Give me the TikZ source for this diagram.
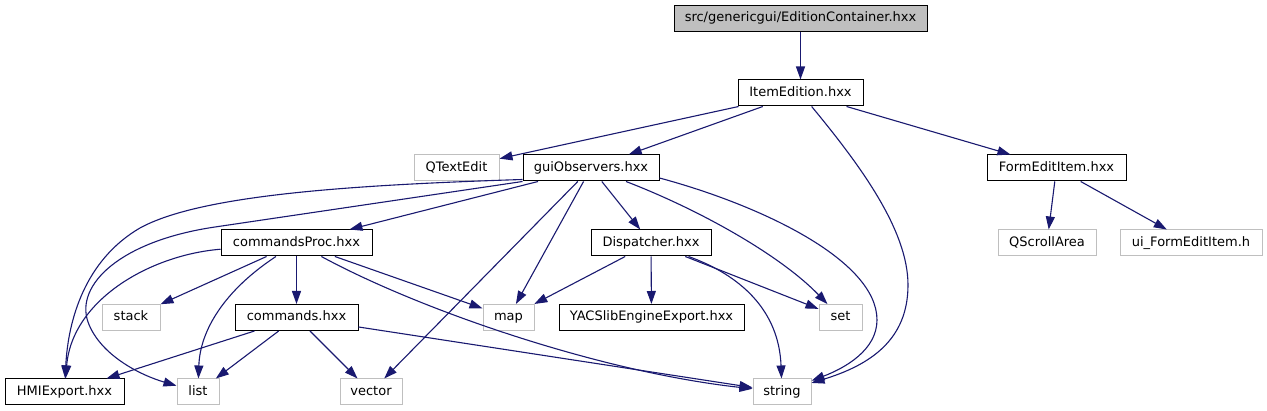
\documentclass[tikz,border=0pt]{standalone}
\usepackage{fontspec}
\setmainfont{DejaVu Sans}
\usetikzlibrary{arrows.meta}
\definecolor{edgec}{HTML}{191970}
\definecolor{greyc}{HTML}{BFBFBF}
\begin{document}
\begin{tikzpicture}[x=1pt,y=-1pt,
  box/.style={draw=black, line width=1pt, fill=white, minimum height=26pt, inner sep=0pt,
    font=\fontsize{13}{15}\selectfont, text height=9.6pt, text depth=2.6pt, anchor=center},
  ext/.style={box, draw=greyc},
  rootbox/.style={box, fill=greyc},
  dep/.style={draw=edgec, line width=1.1pt, -{Triangle[length=13pt,width=9pt]}}
]
\useasboundingbox (0,0) rectangle (1267,411);
\fill[white] (0,0) rectangle (1267,411);

\node[rootbox, minimum width=253pt] (root) at (800.5,18.5) {src/genericgui/EditionContainer.hxx};
\node[box, minimum width=125pt] (item) at (800.5,93) {ItemEdition.hxx};
\node[ext, minimum width=85pt] (qtext) at (456.5,168) {QTextEdit};
\node[box, minimum width=136pt] (gui) at (591,168) {guiObservers.hxx};
\node[box, minimum width=139pt] (form) at (1056.5,168) {FormEditItem.hxx};
\node[box, minimum width=151pt] (cproc) at (296.5,243) {commandsProc.hxx};
\node[box, minimum width=120pt] (disp) at (651,243) {Dispatcher.hxx};
\node[ext, minimum width=98pt] (qscroll) at (1047,243) {QScrollArea};
\node[ext, minimum width=142pt] (ui) at (1191,243) {ui\_FormEditItem.h};
\node[ext, minimum width=58pt] (stack) at (131,317.5) {stack};
\node[box, minimum width=123pt] (cmds) at (296.5,317.5) {commands.hxx};
\node[ext, minimum width=51pt] (map) at (508.5,317.5) {map};
\node[box, minimum width=185pt] (yacs) at (651.5,317.5) {YACSlibEngineExport.hxx};
\node[ext, minimum width=43pt] (set) at (840.5,317.5) {set};
\node[box, minimum width=119pt] (hmi) at (64.5,392) {HMIExport.hxx};
\node[ext, minimum width=42pt] (list) at (198,392) {list};
\node[ext, minimum width=62pt] (vector) at (371,392) {vector};
\node[ext, minimum width=58pt] (string) at (782,392) {string};

\draw[dep] (root) -- (item);
\draw[dep] (item) -- (qtext);
\draw[dep] (item) -- (gui);
\draw[dep] (item) .. controls (860,165) and (908,230) .. (908,285) .. controls (908,340) and (870,365) .. (string);
\draw[dep] (item) -- (form);
\draw[dep] (form) -- (qscroll);
\draw[dep] (form) -- (ui);
\draw[dep] (gui) -- (cproc);
\draw[dep] ([yshift=2pt]gui.south west) .. controls (350,185) and (200,195) .. (140,228) .. controls (85,260) and (68,320) .. (hmi);
\draw[dep] (gui.south west) -- (215,227) .. controls (120,241) and (75,285) .. (88,322) .. controls (100,355) and (140,375) .. (list);
\draw[dep] (gui) -- (vector);
\draw[dep] (gui) -- (map);
\draw[dep] (gui) -- (disp);
\draw[dep] (gui) .. controls (700,210) and (780,255) .. (set);
\draw[dep] ([yshift=-10pt]gui.east) .. controls (760,205) and (877,260) .. (877,320) .. controls (877,350) and (845,368) .. (string);
\draw[dep] (cproc) -- (stack);
\draw[dep] (cproc) .. controls (225,290) and (200,330) .. (list);
\draw[dep] (cproc) -- (cmds);
\draw[dep] (cproc) -- (map);
\draw[dep] (cproc) .. controls (420,310) and (600,372) .. (string);
\draw[dep] (cproc) .. controls (150,255) and (72,300) .. (hmi);
\draw[dep] (cmds) -- (hmi);
\draw[dep] (cmds) -- (list);
\draw[dep] (cmds) -- (vector);
\draw[dep] (cmds) -- (string);
\draw[dep] (disp) -- (map);
\draw[dep] (disp) -- (yacs);
\draw[dep] (disp) -- (set);
\draw[dep] (disp) .. controls (740,275) and (779,310) .. (string);
\end{tikzpicture}
\end{document}
